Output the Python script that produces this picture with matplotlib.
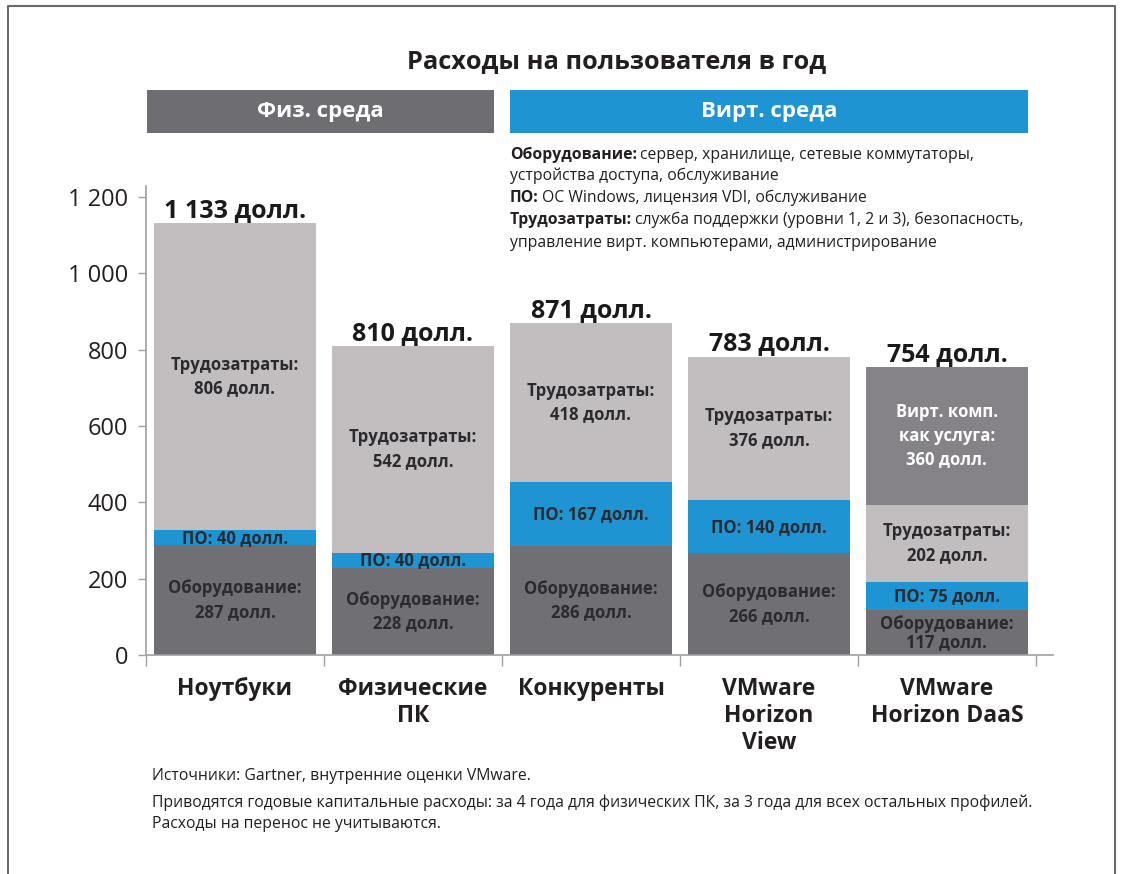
import matplotlib.pyplot as plt
import numpy as np
from matplotlib.lines import Line2D
from matplotlib.patches import Rectangle
from matplotlib.ticker import FixedLocator, FuncFormatter

plt.rcParams['font.family'] = ['Open Sans', 'DejaVu Sans']

# --- data ---
categories = ['Ноутбуки', 'Физические\nПК', 'Конкуренты', 'VMware\nHorizon\nView', 'VMware\nHorizon DaaS']
hardware = [287, 228, 286, 266, 117]
software = [40, 40, 167, 140, 75]
labor = [806, 542, 418, 376, 202]
daas = [0, 0, 0, 0, 360]
totals = [1133, 810, 871, 783, 754]
yticks = [0, 200, 400, 600, 800, 1000, 1200]

# --- colours ---
c_hw = '#706f74'
c_sw = '#1e94d3'
c_lab = '#c2bec0'
c_daas = '#858387'
c_txt = '#2b2a2e'

W, H = 1127, 874
fig = plt.figure(figsize=(W / 100, H / 100), dpi=100)


def fx(px):
    return px / W


def fy(py):
    return 1 - py / H


def money(v):
    return f'{v:,}'.replace(',', ' ') + ' долл.'


# frame (left, top, right)
fig.add_artist(Line2D([fx(8), fx(8), fx(1115), fx(1115)], [0, fy(6), fy(6), 0],
                      transform=fig.transFigure, color='#6a6a6a', lw=1.5))

fig.text(fx(617), fy(62), 'Расходы на пользователя в год', ha='center', va='center',
         fontsize=18.3, fontweight='bold', color='#231f20')

# group headers
fig.add_artist(Rectangle((fx(147), fy(133)), fx(494) - fx(147), fy(90) - fy(133),
                         transform=fig.transFigure, color='#6e6d72', lw=0))
fig.text(fx(320), fy(112), 'Физ. среда', ha='center', va='center', fontsize=16,
         fontweight='bold', color='white')
fig.add_artist(Rectangle((fx(510), fy(133)), fx(1028) - fx(510), fy(90) - fy(133),
                         transform=fig.transFigure, color=c_sw, lw=0))
fig.text(fx(769), fy(112), 'Вирт. среда', ha='center', va='center', fontsize=16,
         fontweight='bold', color='white')

# --- bars ---
ax = fig.add_axes([fx(146), fy(655), fx(1053) - fx(146), fy(185.5) - fy(655)])
x = np.arange(len(categories))
bw = 0.91
bottom = np.zeros(len(categories))
segments = [
    (hardware, c_hw, 'Оборудование:\n{}', c_txt),
    (software, c_sw, 'ПО: {}', c_txt),
    (labor, c_lab, 'Трудозатраты:\n{}', c_txt),
    (daas, c_daas, 'Вирт. комп.\nкак услуга:\n{}', 'white'),
]
for vals, col, fmt, tcol in segments:
    vals = np.array(vals)
    ax.bar(x, vals, bw, bottom=bottom, color=col, lw=0)
    for i, v in enumerate(vals):
        if v > 0:
            ls = 1.0 if v < 150 and '\n' in fmt else 1.4
            ax.text(x[i], bottom[i] + v / 2, fmt.format(money(v)), ha='center', va='center',
                    fontsize=12, fontweight='bold', color=tcol, linespacing=ls)
    bottom += vals

for i, t in enumerate(totals):
    ax.annotate(money(t), (x[i], bottom[i]), xytext=(0, 0), textcoords='offset points',
                ha='center', va='bottom', fontsize=18, fontweight='bold', color='#1a1a1a')

ax.set_xlim(-0.5, 4.596)
ax.set_ylim(0, 1230)
for s in ['top', 'right']:
    ax.spines[s].set_visible(False)
for s in ['left', 'bottom']:
    ax.spines[s].set_color('#a0a0a0')
    ax.spines[s].set_linewidth(1.2)

ax.yaxis.set_major_locator(FixedLocator(yticks))
ax.yaxis.set_major_formatter(FuncFormatter(lambda v, p: f'{int(v):,}'.replace(',', ' ')))
ax.tick_params(axis='y', length=6, width=1, color='#a0a0a0', labelsize=17,
               labelcolor='#231f20', pad=7)

ax.set_xticks(x)
ax.set_xticklabels(categories, fontsize=16.5, fontweight='bold', color='#231f20', linespacing=1.15,
                   va='top')
ax.set_xticks(np.arange(-0.5, 5, 1), minor=True)
ax.tick_params(axis='x', which='major', length=0, pad=16)
ax.tick_params(axis='x', which='minor', length=8, width=1, color='#a0a0a0')

# --- notes with bold lead words ---
renderer = fig.canvas.get_renderer()


def rich_line(px, py, bold, rest, size):
    xpos = fx(px)
    if bold:
        t = fig.text(xpos, fy(py), bold, ha='left', va='center', fontsize=size,
                     fontweight='bold', color='#231f20')
        bb = t.get_window_extent(renderer)
        xpos = bb.x1 / W + 3 / W
    fig.text(xpos, fy(py), rest, ha='left', va='center', fontsize=size, color='#231f20')


notes = [
    ('Оборудование:', 'сервер, хранилище, сетевые коммутаторы,'),
    ('', 'устройства доступа, обслуживание'),
    ('ПО:', 'ОС Windows, лицензия VDI, обслуживание'),
    ('Трудозатраты:', 'служба поддержки (уровни 1, 2 и 3), безопасность,'),
    ('', 'управление вирт. компьютерами, администрирование'),
]
for (b, r), py in zip(notes, [155, 176, 198, 220, 243]):
    rich_line(510, py, b, r, 11.3)

footnotes = [
    'Источники: Gartner, внутренние оценки VMware.',
    'Приводятся годовые капитальные расходы: за 4 года для физических ПК, за 3 года для всех остальных профилей.',
    'Расходы на перенос не учитываются.',
]
for txt, py in zip(footnotes, [776, 803, 824]):
    fig.text(fx(152), fy(py), txt, ha='left', va='center', fontsize=11.3, color='#231f20')

fig.savefig('out.png', dpi=100)
